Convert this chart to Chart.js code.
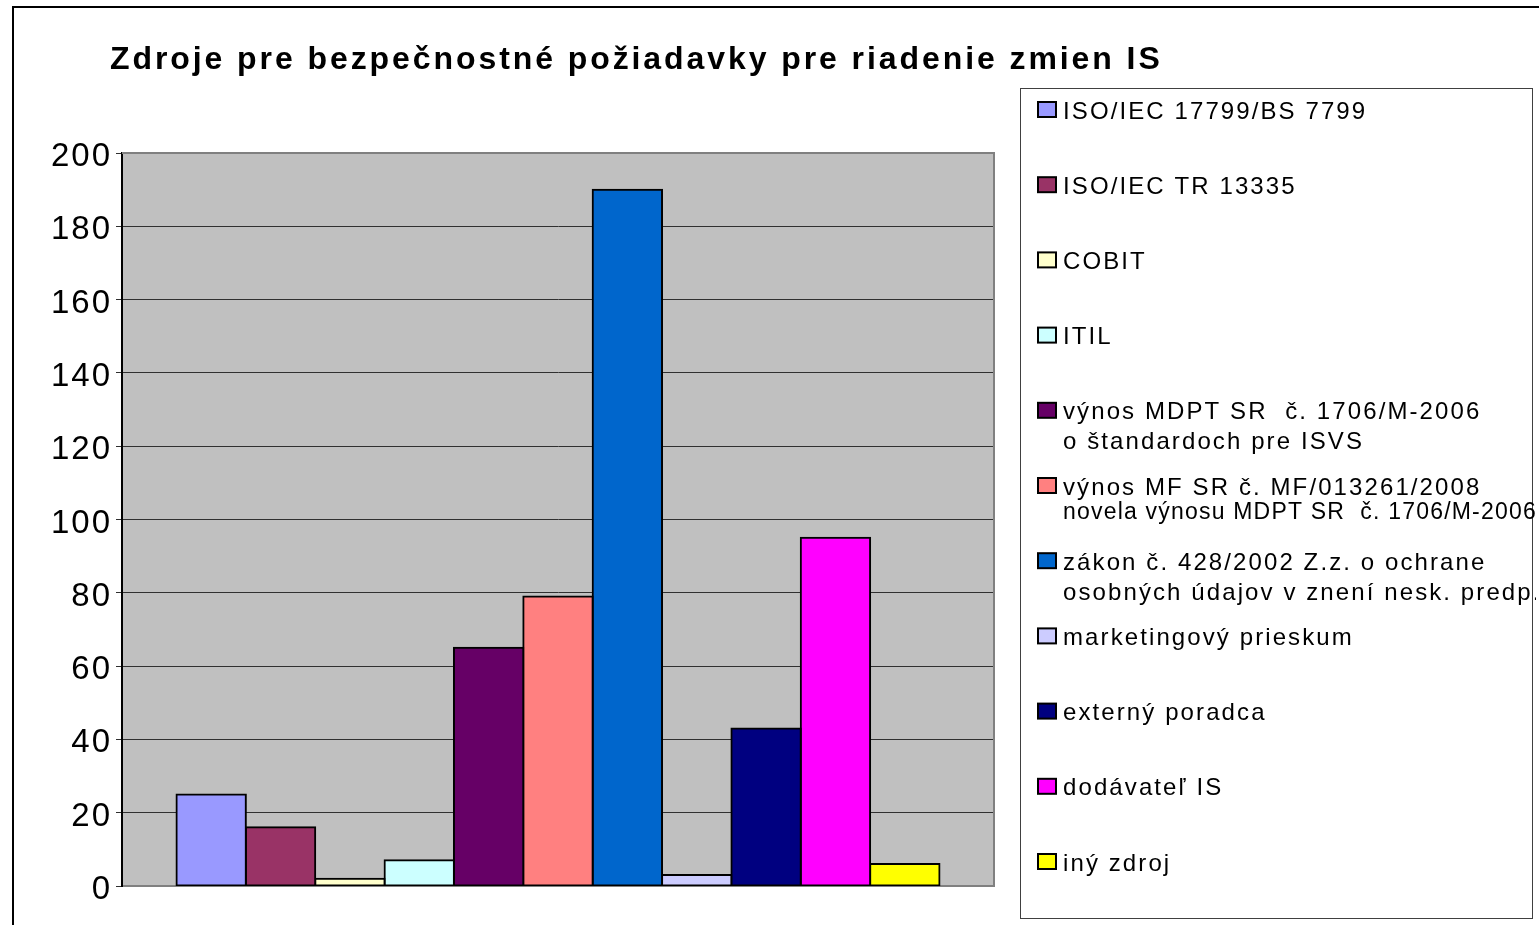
<!DOCTYPE html>
<html>
<head>
<meta charset="utf-8">
<script src="https://cdn.jsdelivr.net/npm/chart.js@4/dist/chart.umd.min.js"></script>
<style>
html,body{margin:0;padding:0;background:#fff;}
canvas{display:block;}
</style>
</head>
<body>
<canvas id="c" width="1539" height="925"></canvas>
<script>
const chartTitle = "Zdroje pre bezpečnostné požiadavky pre riadenie zmien IS";
const categories = [""];
const seriesNames = [
  "ISO/IEC 17799/BS 7799",
  "ISO/IEC TR 13335",
  "COBIT",
  "ITIL",
  "výnos MDPT SR  č. 1706/M-2006\no štandardoch pre ISVS",
  "výnos MF SR č. MF/013261/2008\nnovela výnosu MDPT SR  č. 1706/M-2006",
  "zákon č. 428/2002 Z.z. o ochrane\nosobných údajov v znení nesk. predp.",
  "marketingový prieskum",
  "externý poradca",
  "dodávateľ IS",
  "iný zdroj"
];
const seriesValues = [25, 16, 2, 7, 65, 79, 190, 3, 43, 95, 6];
const seriesColors = ["#9999FF","#993366","#FFFFCC","#CCFFFF","#660066","#FF8080","#0066CC","#CCCCFF","#000080","#FF00FF","#FFFF00"];
const yTicks = [0, 20, 40, 60, 80, 100, 120, 140, 160, 180, 200];

const FONT = "'Liberation Sans', Arial, sans-serif";

const decor = {
  id: 'decor',
  beforeDraw(chart) {
    const ctx = chart.ctx, a = chart.chartArea;
    ctx.save();
    ctx.fillStyle = '#C0C0C0';
    ctx.fillRect(a.left, a.top, a.right - a.left, a.bottom - a.top);
    ctx.restore();
    ctx.letterSpacing = '2px';
  },
  beforeDatasetsDraw(chart) {
    const ctx = chart.ctx, a = chart.chartArea;
    ctx.save();
    ctx.strokeStyle = '#808080';
    ctx.lineWidth = 2;
    ctx.beginPath();
    ctx.moveTo(a.left, a.top);
    ctx.lineTo(a.right, a.top);
    ctx.lineTo(a.right, a.bottom);
    ctx.stroke();
    ctx.restore();
  },
  afterDraw(chart) {
    const ctx = chart.ctx;
    ctx.save();
    ctx.letterSpacing = '0px';
    ctx.strokeStyle = '#000';
    ctx.lineWidth = 2;
    ctx.strokeRect(13, 7, 1560, 960);
    // title
    ctx.font = "bold 32px " + FONT;
    ctx.fillStyle = '#000';
    ctx.textBaseline = 'alphabetic';
    ctx.textAlign = 'left';
    const w0 = ctx.measureText(chartTitle).width;
    const sp = (1050 - w0) / (chartTitle.length - 1);
    ctx.letterSpacing = sp.toFixed(2) + 'px';
    ctx.fillText(chartTitle, 110, 69);
    // legend box
    ctx.letterSpacing = '0px';
    ctx.strokeStyle = '#404040';
    ctx.lineWidth = 1;
    ctx.strokeRect(1020.5, 88.5, 512, 830);
    ctx.beginPath();
    ctx.rect(1021, 89, 515, 829);
    ctx.clip();
    chart.data.datasets.forEach((ds, i) => {
      const yc = 112 + i * 75.2;
      ctx.fillStyle = ds.backgroundColor;
      ctx.fillRect(1038, yc - 10, 18, 15);
      ctx.strokeStyle = '#000';
      ctx.lineWidth = 2;
      ctx.strokeRect(1038, yc - 10, 18, 15);
      const lines = ds.label.split('\n');
      ctx.fillStyle = '#000';
      ctx.textBaseline = 'middle';
      lines.forEach((ln, j) => {
        let size = 24, spc = '2.1px', dy = 30;
        if (j > 0 && ln.length > 36) { size = 23; spc = '1.2px'; dy = 25; }
        ctx.font = size + "px " + FONT;
        ctx.letterSpacing = spc;
        ctx.fillText(ln, 1063, yc + j * dy);
      });
    });
    ctx.restore();
  }
};

const datasets = seriesNames.map((name, i) => ({
  label: name,
  data: [seriesValues[i]],
  backgroundColor: seriesColors[i],
  borderColor: '#000',
  borderWidth: 2,
  borderSkipped: false,
  inflateAmount: 1,
  categoryPercentage: 0.875,
  barPercentage: 1.0
}));

new Chart(document.getElementById('c'), {
  type: 'bar',
  data: { labels: categories, datasets },
  options: {
    responsive: false,
    animation: false,
    devicePixelRatio: 1,
    layout: { padding: { top: 153, right: 545, bottom: 31, left: 0 } },
    plugins: { legend: { display: false }, title: { display: false }, tooltip: { enabled: false } },
    scales: {
      x: {
        ticks: { display: false },
        grid: { display: false },
        border: { display: true, color: '#808080', width: 2 }
      },
      y: {
        min: 0, max: 200,
        afterBuildTicks(scale) { scale.ticks = yTicks.map(v => ({ value: v })); },
        afterFit(scale) { scale.width = 122; },
        ticks: { stepSize: 20, color: '#000', padding: 4, labelOffset: 4, font: { size: 33, family: FONT } },
        grid: { color: '#303030', lineWidth: 1, tickLength: 6 },
        border: { display: true, color: '#000', width: 2 }
      }
    }
  },
  plugins: [decor]
});
</script>
</body>
</html>
